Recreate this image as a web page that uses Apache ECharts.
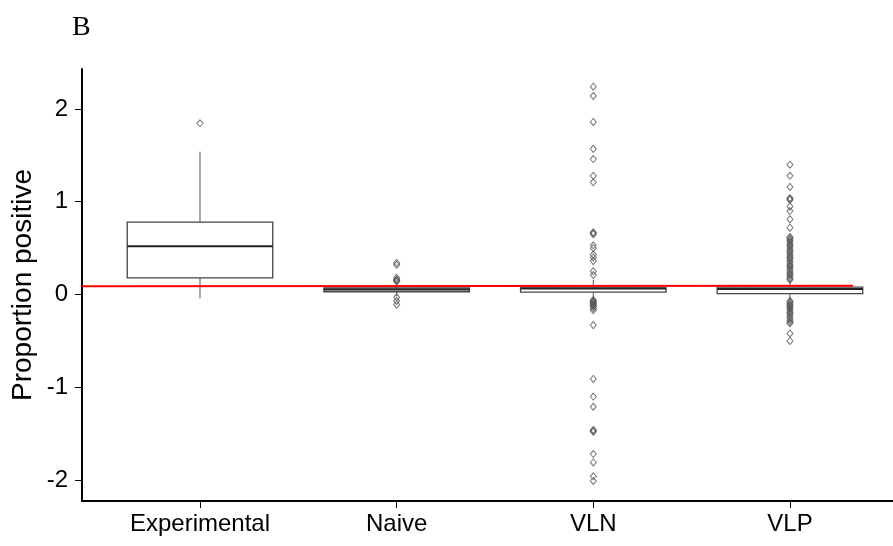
<!DOCTYPE html>
<html>
<head>
<meta charset="utf-8">
<script src="https://cdn.jsdelivr.net/npm/echarts@6/dist/echarts.min.js"></script>
<style>html,body{margin:0;padding:0;background:#fff;}#c{width:893px;height:546px;}</style>
</head>
<body>
<div id="c"></div>
<script>
const categories = ['Experimental', 'Naive', 'VLN', 'VLP'];
const whiskerLow = [-0.04, -0.02, -0.05, -0.06];
const q1 = [0.18, 0.03, 0.025, 0.01];
const median = [0.52, 0.055, 0.065, 0.06];
const q3 = [0.78, 0.07, 0.07, 0.08];
const whiskerHigh = [1.54, 0.12, 0.16, 0.14];
const outExperimental = [1.845];
const outNaive = [0.34, 0.32, 0.18, 0.16, 0.155, 0.15, 0.14, -0.03, -0.07, -0.11];
const outVLN = [2.24, 2.14, 1.86, 1.57, 1.46, 1.28, 1.21, 0.67, 0.66, 0.65, 0.53, 0.50, 0.43, 0.40, 0.36, 0.25, 0.21,
  -0.06, -0.07, -0.08, -0.09, -0.10, -0.11, -0.12, -0.13, -0.15, -0.17, -0.33, -0.91, -1.10, -1.21, -1.46, -1.47, -1.48,
  -1.72, -1.81, -1.96, -2.01];
const outVLP = [1.40, 1.28, 1.16, 1.04, 1.03, 1.02, 0.95, 0.90, 0.81, 0.72, 0.62, 0.61, 0.59, 0.58, 0.56, 0.54, 0.53,
  0.51, 0.49, 0.47, 0.46, 0.44, 0.42, 0.40, 0.39, 0.37, 0.35, 0.33, 0.31, 0.30, 0.28, 0.26, 0.24, 0.22, 0.21, 0.19,
  0.17, 0.16, -0.07, -0.08, -0.10, -0.11, -0.12, -0.14, -0.15, -0.17, -0.19, -0.20, -0.22, -0.24, -0.26, -0.28, -0.30,
  -0.31, -0.42, -0.50];
const refLineX = [0.4, 4.32];
const refLineY = [0.088, 0.095];
const yTicks = [-2, -1, 0, 1, 2];
const xTicks = [1, 2, 3, 4];

const outliers = [outExperimental, outNaive, outVLN, outVLP];
const boxData = categories.map((c, i) => [i + 1, whiskerLow[i], q1[i], median[i], q3[i], whiskerHigh[i]]);
const pointData = [];
outliers.forEach((arr, i) => arr.forEach(v => pointData.push([i + 1, v])));

const BOX_W = 0.74;
const chart = echarts.init(document.getElementById('c'), null, { renderer: 'canvas' });
chart.setOption({
  animation: false,
  backgroundColor: '#fff',
  title: {
    text: 'B', left: 67, top: 9,
    textStyle: { fontFamily: 'Liberation Serif', fontWeight: 'normal', fontSize: 28, color: '#000' }
  },
  grid: { left: 82, right: 0, top: 69, bottom: 45, containLabel: false },
  xAxis: {
    type: 'value', min: 0.4, max: 4.524,
    axisLine: { show: true, onZero: false, lineStyle: { color: '#000', width: 2 } },
    axisTick: { show: true, customValues: xTicks, length: 7, lineStyle: { color: '#000', width: 1 } },
    axisLabel: {
      customValues: xTicks, margin: 11,
      formatter: v => categories[Math.round(v) - 1] || '',
      fontFamily: 'Liberation Sans', fontSize: 24, color: '#000'
    },
    splitLine: { show: false }
  },
  yAxis: {
    type: 'value', min: -2.226, max: 2.431,
    name: 'Proportion positive', nameLocation: 'middle', nameGap: 45, nameMoveOverlap: false,
    nameTextStyle: { fontFamily: 'Liberation Sans', fontSize: 28, color: '#000' },
    axisLine: { show: true, onZero: false, lineStyle: { color: '#000', width: 2 } },
    axisTick: { show: true, customValues: yTicks, length: 7, lineStyle: { color: '#000', width: 1 } },
    axisLabel: {
      customValues: yTicks, margin: 14,
      fontFamily: 'Liberation Sans', fontSize: 24, color: '#000'
    },
    splitLine: { show: false }
  },
  series: [
    {
      type: 'custom',
      data: boxData,
      z: 2,
      renderItem: function (params, api) {
        const x = api.value(0);
        const lo = api.coord([x, api.value(1)]);
        const b1 = api.coord([x, api.value(2)]);
        const md = api.coord([x, api.value(3)]);
        const b3 = api.coord([x, api.value(4)]);
        const hi = api.coord([x, api.value(5)]);
        const hw = api.size([BOX_W, 0])[0] / 2;
        return {
          type: 'group',
          children: [
            { type: 'line', shape: { x1: lo[0], y1: lo[1], x2: b1[0], y2: b1[1] }, style: { stroke: '#555', lineWidth: 1 } },
            { type: 'line', shape: { x1: b3[0], y1: b3[1], x2: hi[0], y2: hi[1] }, style: { stroke: '#555', lineWidth: 1 } },
            { type: 'rect', shape: { x: b3[0] - hw, y: b3[1], width: 2 * hw, height: b1[1] - b3[1] },
              style: { fill: '#fff', stroke: '#444', lineWidth: 1.3 } },
            { type: 'line', shape: { x1: md[0] - hw, y1: md[1], x2: md[0] + hw, y2: md[1] }, style: { stroke: '#222', lineWidth: 2 } }
          ]
        };
      }
    },
    {
      type: 'scatter',
      data: pointData,
      z: 3,
      symbol: 'diamond',
      symbolSize: [6, 7],
      itemStyle: { color: 'rgba(255,255,255,0)', borderColor: '#555', borderWidth: 1 }
    },
    {
      type: 'line',
      data: refLineX.map((x, i) => [x, refLineY[i]]),
      z: 4,
      symbol: 'none',
      lineStyle: { color: '#ff0000', width: 2 }
    }
  ]
});
</script>
</body>
</html>
